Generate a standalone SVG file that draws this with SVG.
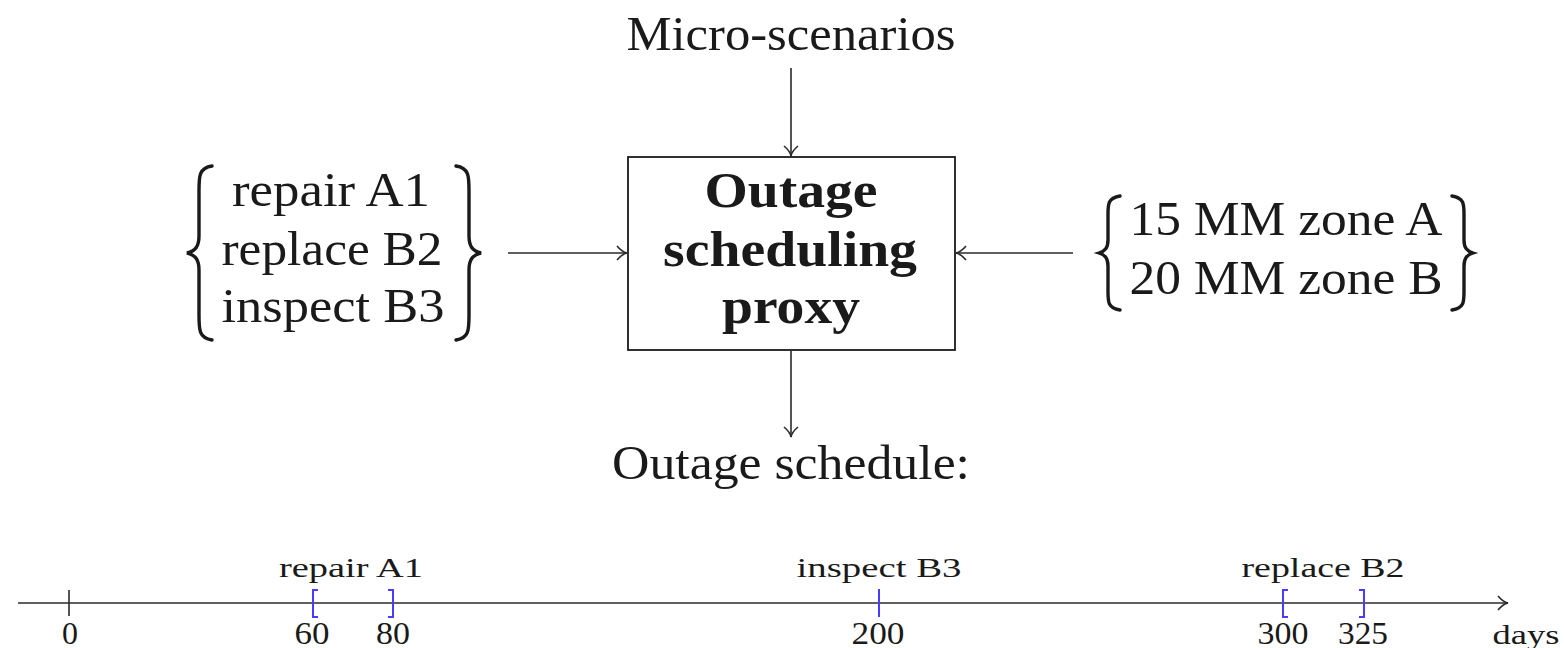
<svg xmlns="http://www.w3.org/2000/svg" width="1564" height="648" viewBox="0 0 1564 648">
<style>
.t{font-family:"Liberation Serif","DejaVu Serif",serif;fill:#1a1a1a;text-anchor:middle}
.big{font-size:48px}
.bold{font-size:51px;font-weight:bold}
.sm{font-size:28px}
.num{font-size:31px}
.ln{stroke:#2a2a2a;stroke-width:1.6;fill:none}
.br{stroke:#1a1a1a;stroke-width:3.4;fill:none;stroke-linecap:round}
.bl{stroke:#4a3cff;stroke-width:2;fill:none}
</style>
<defs>
<marker id="ah" viewBox="0 0 12 16" refX="11" refY="8" markerWidth="12" markerHeight="16" markerUnits="userSpaceOnUse" orient="auto">
<path d="M1 1 Q6 7 11 8 Q6 9 1 15" stroke="#2a2a2a" stroke-width="1.6" fill="none"/>
</marker>
</defs>
<g id="micro"><text class="t big" x="791" y="50" textLength="329" lengthAdjust="spacingAndGlyphs">Micro-scenarios</text></g>
<g id="proxy">
<rect x="628" y="157" width="327" height="193" fill="none" stroke="#1a1a1a" stroke-width="1.8"/>
<text class="t bold" x="791" y="207" textLength="173" lengthAdjust="spacingAndGlyphs">Outage</text>
<text class="t bold" x="790" y="266" textLength="254" lengthAdjust="spacingAndGlyphs">scheduling</text>
<text class="t bold" x="791" y="323" textLength="138" lengthAdjust="spacingAndGlyphs">proxy</text>
</g>
<g id="tasks">
<path class="br" d="M212 166 C199 168 199 176 199 191 L199 236 C199 247 195 251 187 253 C195 255 199 259 199 270 L199 315 C199 330 199 338 212 340"/>
<path class="br" d="M456 166 C469 168 469 176 469 191 L469 236 C469 247 473 251 481 253 C473 255 469 259 469 270 L469 315 C469 330 469 338 456 340"/>
<text class="t big" x="331" y="206" textLength="198" lengthAdjust="spacingAndGlyphs">repair A1</text>
<text class="t big" x="332" y="265" textLength="221" lengthAdjust="spacingAndGlyphs">replace B2</text>
<text class="t big" x="333" y="322" textLength="223" lengthAdjust="spacingAndGlyphs">inspect B3</text>
</g>
<g id="zones">
<path class="br" d="M1120 196 C1108 198 1108 204 1108 214 L1108 240 C1108 248 1105 251 1099 253 C1105 255 1108 258 1108 266 L1108 292 C1108 302 1108 308 1120 310"/>
<path class="br" d="M1452 196 C1464 198 1464 204 1464 214 L1464 240 C1464 248 1467 251 1473 253 C1467 255 1464 258 1464 266 L1464 292 C1464 302 1464 308 1452 310"/>
<text class="t big" x="1286" y="235" textLength="313" lengthAdjust="spacingAndGlyphs">15 MM zone A</text>
<text class="t big" x="1286" y="294" textLength="313" lengthAdjust="spacingAndGlyphs">20 MM zone B</text>
</g>
<g id="schedule"><text class="t big" x="791" y="479" textLength="358" lengthAdjust="spacingAndGlyphs">Outage schedule:</text></g>
<g id="connectors">
<line class="ln" x1="791" y1="68" x2="791" y2="156" marker-end="url(#ah)"/>
<line class="ln" x1="508" y1="253" x2="627" y2="253" marker-end="url(#ah)"/>
<line class="ln" x1="1073" y1="253" x2="956" y2="253" marker-end="url(#ah)"/>
<line class="ln" x1="791" y1="351" x2="791" y2="437" marker-end="url(#ah)"/>
</g>
<g id="timeline">
<line class="ln" x1="18" y1="603" x2="1508" y2="603" marker-end="url(#ah)"/>
<line x1="69" y1="590" x2="69" y2="616" stroke="#2a2a2a" stroke-width="1.6"/>
<path class="bl" d="M318 590 L313 590 L313 617 L318 617"/>
<path class="bl" d="M388 590 L393 590 L393 617 L388 617"/>
<line class="bl" x1="879" y1="589" x2="879" y2="617"/>
<path class="bl" d="M1288 590 L1283 590 L1283 617 L1288 617"/>
<path class="bl" d="M1359 590 L1364 590 L1364 617 L1359 617"/>
<text class="t sm" x="351" y="577" textLength="144" lengthAdjust="spacingAndGlyphs">repair A1</text>
<text class="t sm" x="879" y="577" textLength="165" lengthAdjust="spacingAndGlyphs">inspect B3</text>
<text class="t sm" x="1323" y="577" textLength="163" lengthAdjust="spacingAndGlyphs">replace B2</text>
<text class="t num" x="70" y="644" textLength="16" lengthAdjust="spacingAndGlyphs">0</text>
<text class="t num" x="312" y="644" textLength="35" lengthAdjust="spacingAndGlyphs">60</text>
<text class="t num" x="393" y="644" textLength="34" lengthAdjust="spacingAndGlyphs">80</text>
<text class="t num" x="878" y="644" textLength="53" lengthAdjust="spacingAndGlyphs">200</text>
<text class="t num" x="1283" y="644" textLength="51" lengthAdjust="spacingAndGlyphs">300</text>
<text class="t num" x="1363" y="644" textLength="50" lengthAdjust="spacingAndGlyphs">325</text>
<text class="t sm" x="1526" y="644" textLength="67" lengthAdjust="spacingAndGlyphs">days</text>
</g>
</svg>
